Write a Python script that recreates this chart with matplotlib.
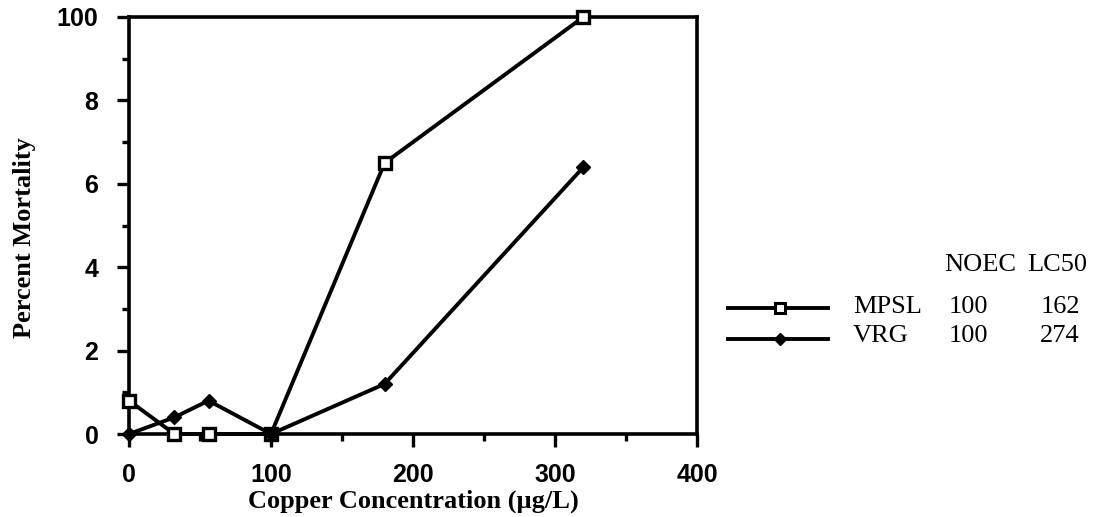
import matplotlib
matplotlib.use("Agg")
import matplotlib.pyplot as plt
from matplotlib.lines import Line2D

# Copper exposure series (concentration in ug/L, mortality in %)
conc = [0, 32, 56, 100, 180, 320]
mpsl_mort = [8, 0, 0, 0, 65, 100]
vrg_mort = [0, 4, 8, 0, 12, 64]

series_names = ["MPSL", "VRG"]
noec = ["100", "100"]
lc50 = ["162", "274"]

x_ticks = [0, 100, 200, 300, 400]
x_minor = [50, 150, 250, 350]
y_ticks = [0, 20, 40, 60, 80, 100]
y_tick_labels = ["0", "2", "4", "6", "8", "100"]
y_minor = [10, 30, 50, 70, 90]

SANS = "Liberation Sans"
SERIF = "Liberation Serif"
LW = 2.8
W, H = 1096, 517


def fx(px):
    return px / W


def fy(py):
    return 1 - py / H


fig = plt.figure(figsize=(W / 100, H / 100), dpi=100, facecolor="white")
ax = fig.add_axes([fx(129), fy(434), fx(697) - fx(129), fy(17) - fy(434)])

ax.plot(conc, mpsl_mort, color="black", lw=LW, marker="s", ms=8,
        mfc="white", mec="black", mew=2.4, zorder=3, clip_on=False)
ax.plot(conc, vrg_mort, color="black", lw=LW, marker="D", ms=7.5,
        mfc="black", mec="black", zorder=3, clip_on=False)

ax.set_xlim(0, 400)
ax.set_ylim(0, 100)
ax.set_xticks(x_ticks)
ax.set_xticks(x_minor, minor=True)
ax.set_yticks(y_ticks)
ax.set_yticks(y_minor, minor=True)
ax.set_yticklabels(y_tick_labels)

for s in ax.spines.values():
    s.set_linewidth(2.6)

ax.tick_params(which="major", direction="out", length=9, width=2.4,
               labelsize=18)
ax.tick_params(which="minor", direction="out", length=5, width=2.4)
ax.tick_params(axis="y", which="major", pad=13)
ax.tick_params(axis="x", which="major", pad=12)
for lab in ax.get_xticklabels() + ax.get_yticklabels():
    lab.set_fontfamily(SANS)
    lab.set_fontweight("bold")

fig.text(fx(413), fy(508), "Copper Concentration (\u00b5g/L)", ha="center",
         va="baseline", family=SERIF, weight="bold", fontsize=19)
fig.text(fx(25), fy(238), "Percent Mortality", ha="center", va="center",
         rotation=90, family=SERIF, weight="bold", fontsize=19)

# key drawn by hand, with the NOEC / LC50 table beside it
line_y = [308, 339]
text_y = [307, 336]
markers = [dict(marker="s", ms=6.5, mfc="white", mec="black", mew=2.2),
           dict(marker="D", ms=6.5, mfc="black", mec="black")]
for name, n, l, ly, ty, mk in zip(series_names, noec, lc50, line_y, text_y,
                                  markers):
    fig.add_artist(Line2D([fx(728), fx(828)], [fy(ly), fy(ly)],
                          color="black", lw=LW, transform=fig.transFigure))
    fig.add_artist(Line2D([fx(780)], [fy(ly)], color="black", lw=0,
                          transform=fig.transFigure, **mk))
    fig.text(fx(853), fy(ty), name, ha="left", va="center", family=SERIF,
             fontsize=19)
    fig.text(fx(968), fy(ty), n, ha="center", va="center", family=SERIF,
             fontsize=19)
    fig.text(fx(1060), fy(ty), l, ha="center", va="center", family=SERIF,
             fontsize=19)

fig.text(fx(980), fy(265), "NOEC", ha="center", va="center",
         family=SERIF, fontsize=19)
fig.text(fx(1057), fy(265), "LC50", ha="center", va="center",
         family=SERIF, fontsize=19)

fig.savefig("out.png", dpi=100, facecolor="white")
